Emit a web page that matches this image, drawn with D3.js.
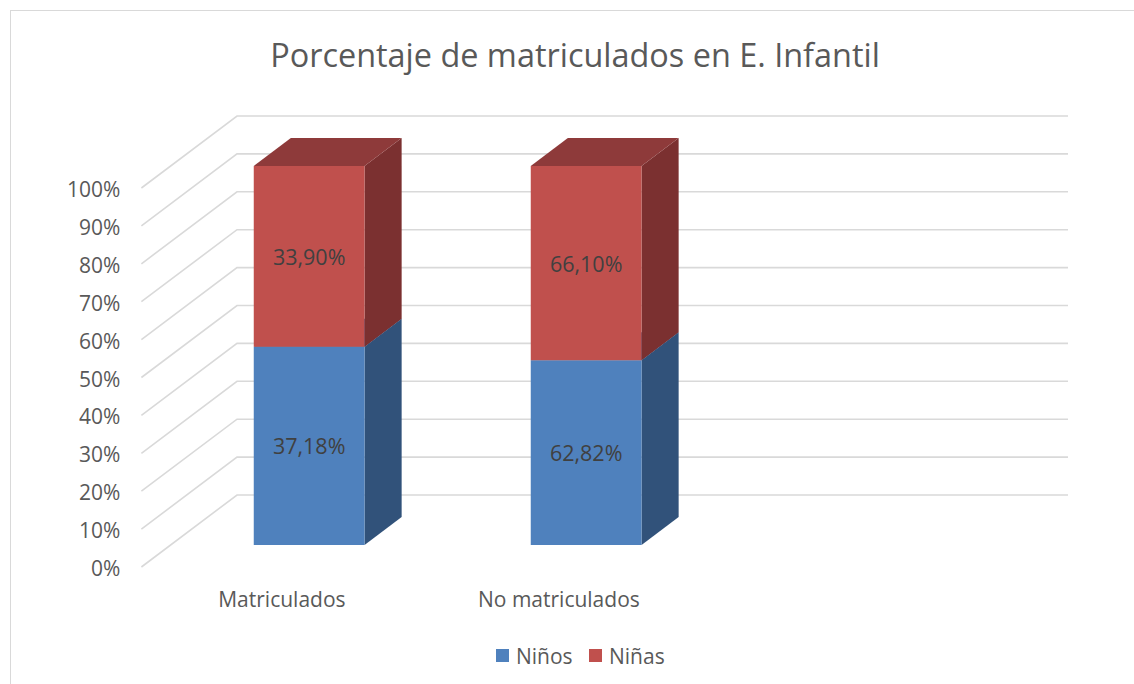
<!DOCTYPE html>
<html><head><meta charset="utf-8">
<script src="https://cdn.jsdelivr.net/npm/d3@7"></script>
<style>html,body{margin:0;padding:0;background:#fff;}svg{display:block;}</style>
</head><body>
<svg id="c" width="1134" height="684"></svg>
<script>
const title = "Porcentaje de matriculados en E. Infantil";
const categories = ["Matriculados", "No matriculados", ""];
const seriesNames = ["Niños", "Niñas"];
const ninos = [37.18, 62.82];
const ninas = [33.90, 66.10];
const yTicks = [0, 0.1, 0.2, 0.3, 0.4, 0.5, 0.6, 0.7, 0.8, 0.9, 1.0];
const tickLabels = ["0%","10%","20%","30%","40%","50%","60%","70%","80%","90%","100%"];
const dataLabels = [["37,18%", "62,82%"], ["33,90%", "66,10%"]];

const colors = {
  front: ["#4F81BD", "#C0504D"],
  side:  ["#31527A", "#7B3030"],
  top:   ["#3A6091", "#8E3A3A"]
};

const svg = d3.select("#c");
const FONT = "'Open Sans', 'Noto Sans', sans-serif";
const textCol = "#595959";
const FS = 21;

function fit(sel, target) {
  sel.attr("font-size", 100);
  const w = sel.node().getComputedTextLength();
  sel.attr("font-size", 100 * target / w);
  return sel;
}

// chart border
svg.append("rect").attr("x", 10.5).attr("y", 10.5).attr("width", 1300).attr("height", 800)
  .attr("fill", "none").attr("stroke", "#D9D9D9").attr("stroke-width", 1);

// title
fit(svg.append("text").text(title).attr("x", 575).attr("y", 67)
  .attr("text-anchor", "middle").attr("font-family", FONT).attr("fill", textCol), 610);

// 3D projection: back-wall coords + depth z (0 back, 1 front)
const DX = -95.6, DY = 72;
const x = d3.scaleBand().domain(categories).range([237, 1068]);
const y = d3.scaleLinear().domain([0, 1]).range([495, 116]);
const P = (px, v, z) => [px + z * DX, y(v) + z * DY];

// gridlines
const grid = svg.append("g").attr("stroke", "#D9D9D9").attr("stroke-width", 1.6).attr("fill", "none");
yTicks.forEach(t => {
  const a = P(x.range()[0], t, 0), b = P(x.range()[1], t, 0), c = P(x.range()[0], t, 1);
  grid.append("path").attr("d", d3.line()([c, a, b]));
});

// y tick labels
yTicks.forEach((t, i) => {
  const p = P(x.range()[0], t, 1);
  svg.append("text").text(tickLabels[i]).attr("x", p[0] - 21).attr("y", p[1] + 1)
    .attr("text-anchor", "end").attr("dominant-baseline", "central")
    .attr("font-family", FONT).attr("fill", textCol).attr("font-size", FS);
});

// bars
const z0 = 0.306, z1 = 0.694;
const barFrac = 0.4;
const bw = x.bandwidth() * barFrac;
const line = d3.line();
const series = [ninos, ninas];
const barsG = svg.append("g");
categories.forEach((cat, ci) => {
  if (cat === "") return;
  const total = ninos[ci] + ninas[ci];
  let base = 0;
  series.forEach((vals, si) => {
    const v0 = base / total, v1 = (base + vals[ci]) / total;
    base += vals[ci];
    const xl = x(cat) + (x.bandwidth() - bw) / 2, xr = xl + bw;
    const side = [P(xr, v0, z1), P(xr, v0, z0), P(xr, v1, z0), P(xr, v1, z1)];
    const top = [P(xl, v1, z1), P(xl, v1, z0), P(xr, v1, z0), P(xr, v1, z1)];
    const front = [P(xl, v0, z1), P(xr, v0, z1), P(xr, v1, z1), P(xl, v1, z1)];
    barsG.append("path").attr("d", line(side) + "Z").attr("fill", colors.side[si]);
    barsG.append("path").attr("d", line(top) + "Z").attr("fill", colors.top[si]);
    barsG.append("path").attr("d", line(front) + "Z").attr("fill", colors.front[si]);
    const c = P((xl + xr) / 2, (v0 + v1) / 2, z1);
    svg.append("text").text(dataLabels[si][ci]).attr("x", c[0]).attr("y", c[1])
      .attr("text-anchor", "middle").attr("dominant-baseline", "central")
      .attr("font-family", FONT).attr("fill", "#404040").attr("font-size", FS + 0.5);
  });
});

// category labels
categories.forEach(cat => {
  if (cat === "") return;
  const p = P(x(cat) + x.bandwidth() / 2, 0, 1);
  svg.append("text").text(cat).attr("x", p[0] + 2).attr("y", p[1] + 32)
    .attr("text-anchor", "middle").attr("dominant-baseline", "central")
    .attr("font-family", FONT).attr("fill", textCol).attr("font-size", FS);
});

// legend
const leg = svg.append("g");
const legX = [496, 589];
seriesNames.forEach((n, i) => {
  leg.append("rect").attr("x", legX[i]).attr("y", 649).attr("width", 13).attr("height", 13)
    .attr("fill", colors.front[i]);
  leg.append("text").text(n).attr("x", legX[i] + 20).attr("y", 655.5)
    .attr("dominant-baseline", "central").attr("font-family", FONT)
    .attr("fill", textCol).attr("font-size", FS);
});
</script>
</body></html>
